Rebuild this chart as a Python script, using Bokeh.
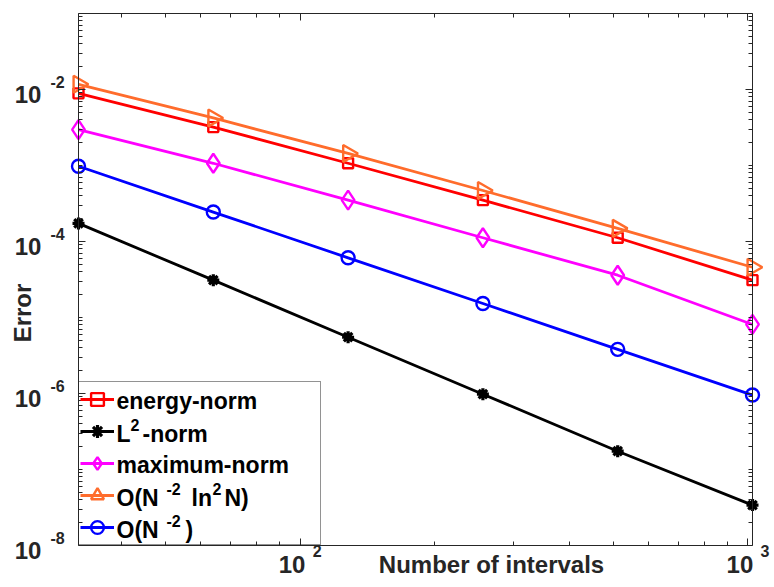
import math

from bokeh.embed import file_html
from bokeh.models import (CustomJSTickFormatter, FixedTicker, Label, Legend,
                          LegendItem, LogAxis, LogScale, Range1d)
from bokeh.plotting import figure
from bokeh.resources import INLINE

# ---- data -----------------------------------------------------------------
intervals = [32, 64, 128, 256, 512, 1024]
energy_norm = [8.9e-3, 3.2e-3, 1.07e-3, 3.5e-4, 1.12e-4, 3.1e-5]
l2_norm = [1.73e-4, 3.1e-5, 5.5e-6, 9.8e-7, 1.74e-7, 3.4e-8]
maximum_norm = [2.97e-3, 1.07e-3, 3.5e-4, 1.12e-4, 3.6e-5, 8.1e-6]
rate_log = [1.17e-2, 4.22e-3, 1.44e-3, 4.69e-4, 1.49e-4, 4.58e-5]
rate_plain = [9.77e-4, 2.44e-4, 6.10e-5, 1.53e-5, 3.81e-6, 9.54e-7]

x_major = [100, 1000]
x_exponents = ["2", "3"]
y_major = [1e-8, 1e-6, 1e-4, 1e-2]
y_exponents = ["-8", "-6", "-4", "-2"]

# axes box limits
x_lo, x_hi = 32, 1024
y_lo, y_hi = 1e-8, 1e-1

# ---- layout (pixels) ------------------------------------------------------
# The plotting frame fills the whole canvas; the axes box is drawn inside it
# with fixed-location axes so that tick labels, titles and edge markers are
# never clipped.
W, H = 774, 587
BOX_L, BOX_R, BOX_T, BOX_B = 78, 752, 13, 545

x_per_px = (math.log10(x_hi) - math.log10(x_lo)) / (BOX_R - BOX_L)
y_per_px = (math.log10(y_hi) - math.log10(y_lo)) / (BOX_B - BOX_T)
x_range = Range1d(x_lo / 10 ** (BOX_L * x_per_px), x_hi * 10 ** ((W - BOX_R) * x_per_px))
y_range = Range1d(y_lo / 10 ** ((H - BOX_B) * y_per_px), y_hi * 10 ** (BOX_T * y_per_px))

FONT = "Liberation Sans"
AX_COLOR = "#262626"

p = figure(width=W, height=H, x_axis_type=None, y_axis_type=None,
           x_range=x_range, y_range=y_range, title=None,
           output_backend="svg", toolbar_location=None,
           min_border_left=0, min_border_right=0,
           min_border_top=0, min_border_bottom=0)
p.x_scale = LogScale()
p.y_scale = LogScale()
p.outline_line_color = None
p.background_fill_color = "white"
p.border_fill_color = "white"

# ---- axes box with inward ticks --------------------------------------------
x_minor = [m * 10 ** e for e in (1, 2) for m in range(2, 10) if x_lo <= m * 10 ** e <= x_hi]
y_minor = [m * 10.0 ** e for e in range(-8, -1) for m in range(1, 10)
           if y_lo <= m * 10.0 ** e <= y_hi and m * 10.0 ** e not in y_major]
y_minor.append(1e-1)


def make_axis(ticks, minor, loc, bounds):
    ax = LogAxis(ticker=FixedTicker(ticks=ticks, minor_ticks=minor),
                 formatter=CustomJSTickFormatter(code="return ''"),
                 fixed_location=loc, bounds=bounds)
    ax.major_label_text_font_size = "1px"
    ax.major_label_standoff = 0
    ax.axis_line_color = AX_COLOR
    ax.axis_line_width = 1
    ax.major_tick_line_color = AX_COLOR
    ax.minor_tick_line_color = AX_COLOR
    ax.major_tick_in = 7
    ax.major_tick_out = 0
    ax.minor_tick_in = 4
    ax.minor_tick_out = 0
    return ax


p.add_layout(make_axis(x_major, x_minor, y_lo, (x_lo, x_hi)), "below")
p.add_layout(make_axis(x_major, x_minor, y_hi, (x_lo, x_hi)), "above")
p.add_layout(make_axis(y_major, y_minor, x_lo, (y_lo, y_hi)), "left")
p.add_layout(make_axis(y_major, y_minor, x_hi, (y_lo, y_hi)), "right")

# ---- series ---------------------------------------------------------------
LW = 2.8
series = [
    (energy_norm, "#FF0000", dict(marker="square", size=10)),
    (l2_norm, "#000000", dict(marker="asterisk", size=12, line_width=3.2)),
    (maximum_norm, "#FF00FF", dict(marker="diamond", size=19)),
    (rate_log, "#FF6C2C", dict(marker="triangle", size=17, angle=-math.pi / 2)),
    (rate_plain, "#0000FF", dict(marker="circle", size=13)),
]

legend_items = []
for ys, color, mk in series:
    ln = p.line(intervals, ys, line_color=color, line_width=LW)
    opts = dict(line_width=2.4)
    opts.update(mk)
    sc = p.scatter(intervals, ys, line_color=color, fill_color=None, **opts)
    legend_items.append(LegendItem(label=" ", renderers=[ln, sc]))

# the legend only draws the box and the keys; its texts are labels below
legend = Legend(items=legend_items, location=(BOX_L, H - BOX_B),
                padding=1, spacing=0, margin=0,
                glyph_width=34, glyph_height=32, label_height=32,
                label_standoff=3, label_width=202,
                border_line_color=AX_COLOR, border_line_width=1,
                background_fill_alpha=0.0,
                label_text_font_size="1px")
p.add_layout(legend)


# ---- text helpers (screen offsets from the frame's bottom-left corner) ----
def sx(px):
    return px


def sy(py):
    return H - py


def add_text(text, x, y, size, color="#000000", align="left", angle=0.0,
             x_units="screen", y_units="screen", x_offset=0, y_offset=0):
    p.add_layout(Label(x=x, y=y, x_units=x_units, y_units=y_units,
                       x_offset=x_offset, y_offset=y_offset,
                       text=text, text_font=FONT, text_font_style="bold",
                       text_font_size=f"{size}px", text_color=color,
                       text_align=align, text_baseline="middle", angle=angle,
                       level="overlay"))


# tick labels: base "10" plus a raised exponent
for xv, ex in zip(x_major, x_exponents):
    add_text("10", xv, sy(564), 24, AX_COLOR, "center", x_units="data", x_offset=-8)
    add_text(ex, xv, sy(550), 16, AX_COLOR, "center", x_units="data", x_offset=17)

for yv, ex in zip(y_major, y_exponents):
    add_text("10", sx(27.5), yv, 24, AX_COLOR, "center", y_units="data", y_offset=-4.5)
    add_text(ex, sx(57), yv, 16, AX_COLOR, "center", y_units="data", y_offset=8)

# axis titles
add_text("Number of intervals", sx(491), sy(564), 24, AX_COLOR, "center")
add_text("Error", sx(22), sy(312.5), 24, AX_COLOR, "center", angle=math.pi / 2)

# legend texts (with superscripts)
ROWS = [400, 433, 464, 497, 529]
SUP = 9
add_text("energy-norm", sx(116), sy(ROWS[0]), 23)
add_text("L", sx(116), sy(ROWS[1]), 23)
add_text("2", sx(130), sy(ROWS[1] - SUP), 16)
add_text("-norm", sx(142), sy(ROWS[1]), 23)
add_text("maximum-norm", sx(116), sy(ROWS[2]), 23)
add_text("O(N", sx(116), sy(ROWS[3]), 23)
add_text("-2", sx(166), sy(ROWS[3] - SUP), 16)
add_text("ln", sx(191), sy(ROWS[3]), 23)
add_text("2", sx(212), sy(ROWS[3] - SUP), 16)
add_text("N)", sx(224), sy(ROWS[3]), 23)
add_text("O(N", sx(116), sy(ROWS[4]), 23)
add_text("-2", sx(166), sy(ROWS[4] - SUP), 16)
add_text(")", sx(185), sy(ROWS[4]), 23)

open("out.html", "w").write(file_html(p, INLINE))
